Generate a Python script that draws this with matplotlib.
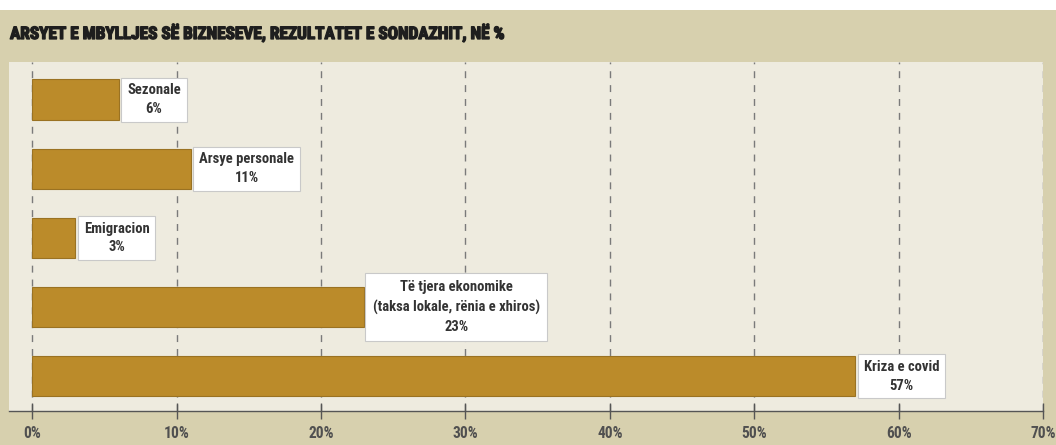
import matplotlib
matplotlib.use("Agg")
import matplotlib.pyplot as plt
import matplotlib.patheffects as pe
from matplotlib.patches import Rectangle

# Survey data: reasons for business closures, in percent
categories = [
    "Sezonale",
    "Arsye personale",
    "Emigracion",
    "Të tjera ekonomike\n(taksa lokale, rënia e xhiros)",
    "Kriza e covid",
]
values = [6, 11, 3, 23, 57]
xticks = [0, 10, 20, 30, 40, 50, 60, 70]
xtick_labels = [f"{t}%" for t in xticks]
title = "ARSYET E MBYLLJES SË BIZNESEVE, REZULTATET E SONDAZHIT, NË %"

FONT = ["Roboto Condensed", "Roboto", "DejaVu Sans"]
plt.rcParams["font.family"] = FONT

BG = "#d7d0ae"
PANEL = "#eeebdf"
BAR = "#bb8b2a"
TEXT = "#333333"

fig = plt.figure(figsize=(10.56, 4.45), dpi=100, facecolor=BG)

# white strip along the top edge
fig.patches.append(Rectangle((0, 1 - 10 / 445), 1, 10 / 445, transform=fig.transFigure,
                             facecolor="white", edgecolor="none", zorder=0))

ax = fig.add_axes([9 / 1056, 34 / 445, (1043 - 9) / 1056, (411 - 62) / 445])
ax.set_facecolor(PANEL)

y = list(range(len(categories)))
ax.barh(y, values, height=0.59, color=BAR, edgecolor="#9a7222", linewidth=0.8, zorder=3)

ax.set_xlim(-1.6, 70)
ax.set_ylim(4.505, -0.548)

# dashed vertical guides
for t in xticks:
    ax.axvline(t, color="#7a7a7a", linewidth=1.0, linestyle=(0, (5, 5)), zorder=1)

# wider callout padding for the long three-line label
pads = [0.4, 0.4, 0.4, 0.5, 0.4]
for yi, v, lab, p in zip(y, values, categories, pads):
    ax.annotate(f"{lab}\n{v}%", xy=(v, yi), xytext=(6, 0), textcoords="offset points",
                ha="left", va="center", multialignment="center",
                fontsize=10.5, fontweight="bold", color=TEXT, linespacing=1.45,
                bbox=dict(boxstyle=f"square,pad={p}", facecolor="white",
                          edgecolor="#c9c9c9", linewidth=0.8), zorder=5)

ax.set_xticks(xticks)
ax.set_xticklabels(xtick_labels, fontsize=11.2, fontweight="bold", color="#505050")
ax.set_yticks([])
ax.tick_params(axis="x", direction="inout", length=12, width=1, color="#555555", pad=5)
for s in ["top", "right", "left"]:
    ax.spines[s].set_visible(False)
ax.spines["bottom"].set_color("#555555")
ax.spines["bottom"].set_linewidth(1)

fig.text(10 / 1056, 1 - 33 / 445, title, ha="left", va="center",
         fontsize=12.4, fontweight="bold", color="#1e1e1e",
         path_effects=[pe.withStroke(linewidth=1.0, foreground="#1e1e1e")])

fig.savefig("out.png", dpi=100, facecolor=BG)
